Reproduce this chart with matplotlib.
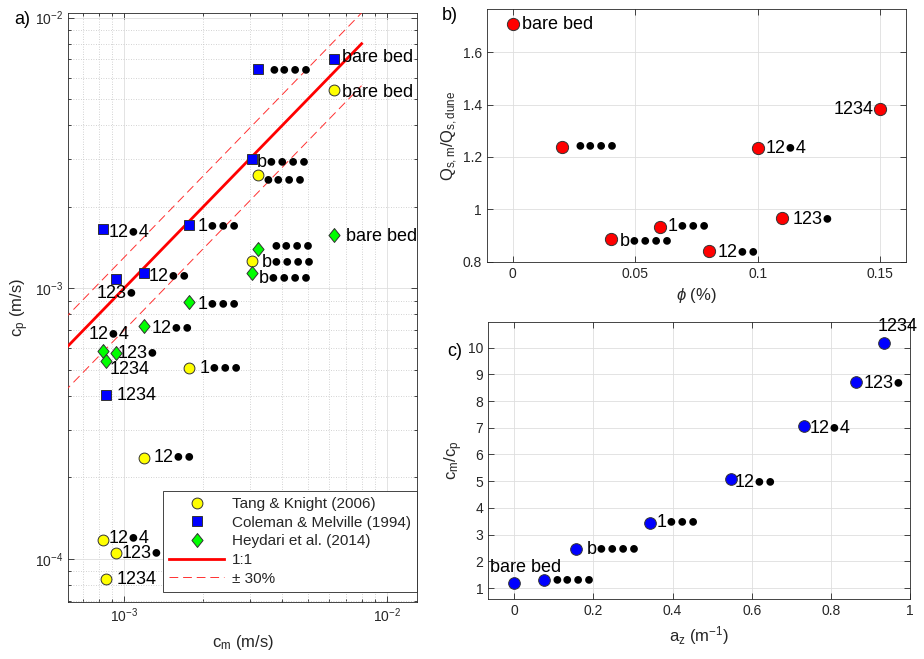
import matplotlib
matplotlib.use('Agg')
import matplotlib.pyplot as plt
import numpy as np
from matplotlib.lines import Line2D
from matplotlib.ticker import FormatStrFormatter, NullFormatter

plt.rcParams['font.family'] = ['Liberation Sans', 'DejaVu Sans']
plt.rcParams['mathtext.fontset'] = 'custom'
plt.rcParams['mathtext.rm'] = 'Liberation Sans'
plt.rcParams['mathtext.it'] = 'Liberation Sans:italic'
plt.rcParams['mathtext.bf'] = 'Liberation Sans:bold'

# ---------------- data ----------------
case_labels = ["bare bed", "••••", "b••••", "1•••", "12••", "12•4", "123•", "1234"]

# panel a: measured celerity c_m (shared) and predicted c_p per data set
cm_meas = [6.29e-3, 3.24e-3, 3.07e-3, 1.77e-3, 1.19e-3, 8.32e-4, 9.3e-4, 8.5e-4]
cp_tang = [5.38e-3, 2.61e-3, 1.26e-3, 5.07e-4, 2.36e-4, 1.17e-4, 1.05e-4, 8.4e-5]
cp_coleman = [7.0e-3, 6.43e-3, 2.99e-3, 1.71e-3, 1.14e-3, 1.65e-3, 1.08e-3, 4.03e-4]
cp_heydari = [1.57e-3, 1.39e-3, 1.14e-3, 8.88e-4, 7.24e-4, 5.86e-4, 5.75e-4, 5.38e-4]
ref_line_cm = [5e-4, 8e-3]
ref_band = 0.30

# panel b
phi_pct = [0.0, 0.02, 0.04, 0.06, 0.08, 0.10, 0.11, 0.15]
qs_ratio = [1.708, 1.239, 0.887, 0.934, 0.842, 1.236, 0.968, 1.382]

# panel c
a_z = [0.0, 0.0758, 0.155, 0.343, 0.547, 0.732, 0.864, 0.933]
cm_over_cp = [1.19, 1.29, 2.475, 3.45, 5.075, 7.06, 8.71, 10.16]

legend_names = ["Tang & Knight (2006)", "Coleman & Melville (1994)", "Heydari et al. (2014)", "1:1", "± 30%"]

# label offsets (pixels: dx right, dy down) -- styling only
off_tang = [(8, 2), (4, 4), (10, 1), (10, 0), (10, 0), (5, -2), (6, 0), (11, 0)]
off_cole = [(8, -2), (10, 0), (5, 3), (8, 1), (5, 4), (5, 3), (-19, 14), (11, 0)]
off_heyd = [(12, 1), (12, -4), (7, 6), (8, 2), (8, 2), (-15, -17), (2, 0), (4, 8)]
off_b = [(9, 1), (13, -1), (9, 3), (8, 0), (9, 2), (8, 1), (10, 2), (-7, 0)]
off_c = [(-24, -15), (7, -1), (11, 1), (7, 0), (4, 3), (6, 2), (7, 1), (-6, -17)]

TXT = '#262626'
LBL_FS = 13


def disp(s):
    return s.replace('•', '●')


def put_labels(ax, xs, ys, offs, right_last=False):
    for x, y, lab, (dx, dy) in zip(xs, ys, case_labels, offs):
        ha = 'right' if (right_last and lab == '1234') else 'left'
        ax.annotate(disp(lab), (x, y), xytext=(dx * 0.72, -dy * 0.72),
                    textcoords='offset points', ha=ha, va='center',
                    fontsize=LBL_FS, color='black', zorder=6)


def style_axes(ax):
    for sp in ax.spines.values():
        sp.set_color(TXT)
        sp.set_linewidth(0.6)
    ax.tick_params(which='both', direction='in', top=True, right=True,
                   colors=TXT, labelsize=10, width=0.6)
    ax.tick_params(which='major', length=4)
    ax.tick_params(which='minor', length=2.5)
    ax.set_axisbelow(True)


fig = plt.figure(figsize=(9.24, 6.59), dpi=100)

# ---------------- panel a ----------------
axa = fig.add_axes([0.0741, 0.0870, 0.3772, 0.8929])
axa.set_xscale('log')
axa.set_yscale('log')
axa.set_xlim(6.14e-4, 1.30e-2)
axa.set_ylim(6.95e-5, 1.037e-2)
axa.grid(True, which='major', color='#dedede', lw=0.6, ls='-')
axa.grid(True, which='minor', color='#c4c4c4', lw=0.6, ls=(0, (1, 2)))

lx = np.array(ref_line_cm)
axa.plot(lx, lx, color='red', lw=2, zorder=3)
axa.plot(lx, lx * (1 + ref_band), color='#ff3030', lw=0.7, dashes=(9, 5), zorder=3)
axa.plot(lx, lx * (1 - ref_band), color='#ff3030', lw=0.7, dashes=(9, 5), zorder=3)

diamond = [(0, 1), (0.8, 0), (0, -1), (-0.8, 0), (0, 1)]
axa.plot(cm_meas, cp_tang, ls='none', marker='o', ms=7.8, mfc='#ffff00', mec='#333333', mew=0.7, zorder=5)
axa.plot(cm_meas, cp_coleman, ls='none', marker='s', ms=6.5, mfc='#0000ff', mec='#333333', mew=0.7, zorder=5)
axa.plot(cm_meas, cp_heydari, ls='none', marker=diamond, ms=10, mfc='#00ff00', mec='#333333', mew=0.7, zorder=5)
put_labels(axa, cm_meas, cp_tang, off_tang)
put_labels(axa, cm_meas, cp_coleman, off_cole)
put_labels(axa, cm_meas, cp_heydari, off_heyd)

style_axes(axa)
axa.xaxis.set_minor_formatter(NullFormatter())
axa.yaxis.set_minor_formatter(NullFormatter())
axa.set_xlabel(r'$\mathregular{c_m}$ (m/s)', fontsize=12, color=TXT, labelpad=6)
axa.set_ylabel(r'$\mathregular{c_p}$ (m/s)', fontsize=12, color=TXT, labelpad=3)

handles = [
    Line2D([], [], ls='none', marker='o', ms=7.8, mfc='#ffff00', mec='#333333', mew=0.7),
    Line2D([], [], ls='none', marker='s', ms=6.5, mfc='#0000ff', mec='#333333', mew=0.7),
    Line2D([], [], ls='none', marker=diamond, ms=10, mfc='#00ff00', mec='#333333', mew=0.7),
    Line2D([], [], color='red', lw=2),
    Line2D([], [], color='#ff3030', lw=0.7, dashes=(9, 5)),
]
leg = axa.legend(handles, legend_names, loc='lower right', bbox_to_anchor=(1.0, 0.017),
                 borderaxespad=0, fontsize=11, handlelength=3.6, handletextpad=0.5,
                 borderpad=0.4, labelspacing=0.3, fancybox=False, framealpha=1,
                 edgecolor=TXT)
leg.get_frame().set_linewidth(0.6)
for t in leg.get_texts():
    t.set_color(TXT)

# ---------------- panel b ----------------
axb = fig.add_axes([0.5267, 0.6029, 0.4535, 0.3830])
axb.set_xlim(-0.0106, 0.1604)
axb.set_ylim(0.8, 1.764)
axb.set_xticks([0, 0.05, 0.1, 0.15])
axb.set_yticks([0.8, 1.0, 1.2, 1.4, 1.6])
axb.xaxis.set_major_formatter(FormatStrFormatter('%g'))
axb.yaxis.set_major_formatter(FormatStrFormatter('%g'))
axb.grid(True, color='#dedede', lw=0.6)
axb.plot(phi_pct, qs_ratio, ls='none', marker='o', ms=8.8, mfc='#ff0000', mec='#333333', mew=0.7, zorder=5)
put_labels(axb, phi_pct, qs_ratio, off_b, right_last=True)
style_axes(axb)
axb.set_xlabel(r'$\phi$ (%)', fontsize=12, color=TXT)
axb.set_ylabel(r'$\mathregular{Q_{s,m}/Q_{s,dune}}$', fontsize=12, color=TXT, labelpad=2)

# ---------------- panel c ----------------
axc = fig.add_axes([0.5285, 0.0906, 0.4564, 0.4212])
axc.set_xlim(-0.0657, 1.0)
axc.set_ylim(0.58, 10.97)
axc.set_xticks([0, 0.2, 0.4, 0.6, 0.8, 1.0])
axc.set_yticks(range(1, 11))
axc.xaxis.set_major_formatter(FormatStrFormatter('%g'))
axc.grid(True, color='#dedede', lw=0.6)
axc.plot(a_z, cm_over_cp, ls='none', marker='o', ms=8.4, mfc='#0000ff', mec='#333333', mew=0.7, zorder=5)
put_labels(axc, a_z, cm_over_cp, off_c)
style_axes(axc)
axc.set_xlabel(r'$\mathregular{a_z\ (m^{-1})}$', fontsize=12, color=TXT)
axc.set_ylabel(r'$\mathregular{c_m/c_p}$', fontsize=12, color=TXT, labelpad=2)

# panel letters
fig.text(0.0152, 0.971, 'a)', fontsize=13, va='center', ha='left')
fig.text(0.478, 0.976, 'b)', fontsize=13, va='center', ha='left')
fig.text(0.484, 0.466, 'c)', fontsize=13, va='center', ha='left')

fig.savefig('out.png', dpi=100)
